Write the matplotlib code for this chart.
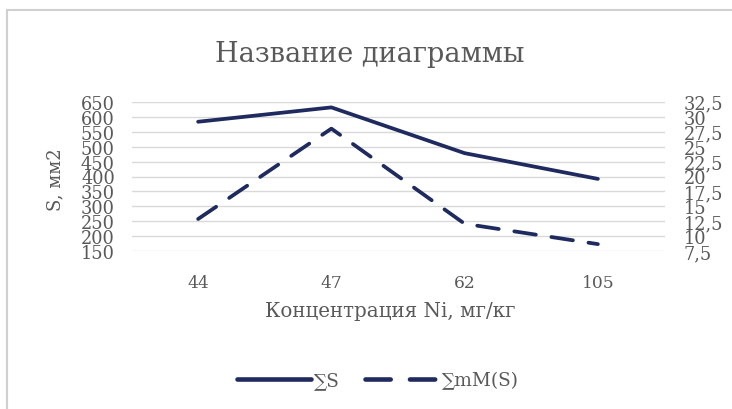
import matplotlib
matplotlib.use("Agg")
import matplotlib.pyplot as plt
from matplotlib.lines import Line2D
from matplotlib.ticker import FixedLocator, FuncFormatter

plt.rcParams['font.family'] = ['DejaVu Serif']

categories = ["44", "47", "62", "105"]
sum_s = [583, 631, 478, 392]
sum_mms = [12.9, 28.0, 12.1, 8.7]
left_ticks = [150, 200, 250, 300, 350, 400, 450, 500, 550, 600, 650]
right_ticks = [7.5, 10, 12.5, 15, 17.5, 20, 22.5, 25, 27.5, 30, 32.5]

navy = '#1f2a5e'
grey_txt = '#595959'
grid_c = '#d9d9d9'

W, H = 732, 410
fig = plt.figure(figsize=(W / 100, H / 100), dpi=100)
fig.patch.set_facecolor('white')

left, right, top, bottom = 131.5, 664.5, 102.7, 252.3
ax = fig.add_axes([left / W, 1 - bottom / H, (right - left) / W, (bottom - top) / H])
ax2 = ax.twinx()

x = list(range(len(categories)))
ax.plot(x, sum_s, color=navy, lw=2.7, solid_capstyle='round', solid_joinstyle='round', zorder=3)
ax2.plot(x, sum_mms, color=navy, lw=2.7, linestyle=(0, (5.8, 4.2)), dash_capstyle='round', zorder=3)

ax.set_xlim(-0.5, len(categories) - 0.5)
ax.set_ylim(150, 650)
ax2.set_ylim(7.5, 32.5)
ax.yaxis.set_major_locator(FixedLocator(left_ticks))
ax2.yaxis.set_major_locator(FixedLocator(right_ticks))
ax2.yaxis.set_major_formatter(FuncFormatter(lambda v, p: ('%g' % v).replace('.', ',')))
ax.set_xticks(x)
ax.set_xticklabels(categories)

for a in (ax, ax2):
    for s in a.spines.values():
        s.set_visible(False)
    a.tick_params(length=0, colors=grey_txt, labelsize=12.8)
    a.set_facecolor('none')
ax.tick_params(axis='x', labelsize=12.3)

ax.grid(axis='y', color=grid_c, lw=1.0)
ax.set_axisbelow(True)
ax.tick_params(axis='y', pad=12)
ax2.tick_params(axis='y', pad=14)
ax.tick_params(axis='x', pad=16)
for lbl in ax2.get_yticklabels():
    lbl.set_horizontalalignment('left')
for lbl in ax.get_yticklabels():
    lbl.set_verticalalignment('center_baseline')
for lbl in ax2.get_yticklabels():
    lbl.set_verticalalignment('center_baseline')

fig.text(370 / W, 1 - 55 / H, "Название диаграммы", ha='center', va='center',
         fontsize=19.5, color=grey_txt)
fig.text(390 / W, 1 - 312 / H, "Концентрация Ni, мг/кг", ha='center', va='center',
         fontsize=14.3, color=grey_txt)
fig.text(55 / W, 1 - 180 / H, "S, мм2", ha='center', va='center', rotation=90,
         fontsize=13, color=grey_txt)

handles = [Line2D([0], [0], color=navy, lw=3.3, solid_capstyle='round'),
           Line2D([0], [0], color=navy, lw=3.3, linestyle=(0, (5.5, 4.2)), dash_capstyle='round')]
fig.legend(handles, ["∑S", "∑mM(S)"], loc='center', bbox_to_anchor=(378 / W, 1 - 381 / H),
           ncol=2, frameon=False, fontsize=13.3, labelcolor=grey_txt, handlelength=4.0,
           handletextpad=0.15, columnspacing=1.4)

fig.add_artist(Line2D([7.5 / W, 7.5 / W], [0, 1 - 10.5 / H], transform=fig.transFigure,
                      color='#d0d0d0', lw=1.5))
fig.add_artist(Line2D([7.5 / W, 1], [1 - 10.5 / H, 1 - 10.5 / H], transform=fig.transFigure,
                      color='#d0d0d0', lw=1.5))

fig.savefig("out.png", dpi=100, facecolor='white')
